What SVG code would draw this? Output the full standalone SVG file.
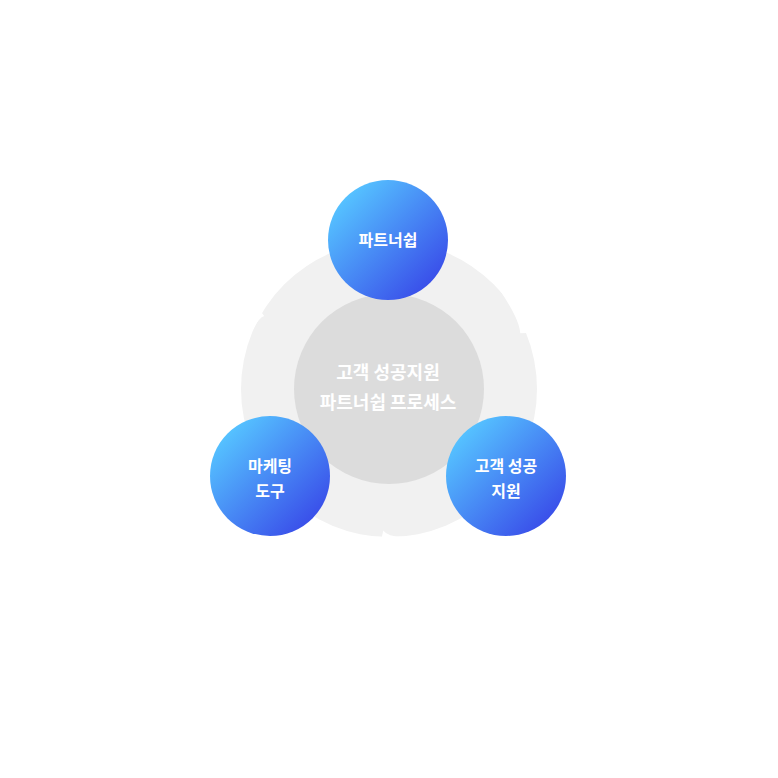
<svg xmlns="http://www.w3.org/2000/svg" width="778" height="778" viewBox="0 0 778 778">
<defs>
<linearGradient id="blue" x1="0.15" y1="0.15" x2="0.85" y2="0.85">
<stop offset="0" stop-color="#55c1ff"/>
<stop offset="1" stop-color="#3a51ea"/>
</linearGradient>
<style>
.lbl{font-family:"Noto Sans CJK KR","Noto Sans",sans-serif;font-weight:700;fill:#ffffff;text-anchor:middle;dominant-baseline:central}
.node{fill:url(#blue)}
</style>
</defs>
<rect width="778" height="778" fill="#ffffff"/>
<g id="cycle-ring">
<circle cx="389" cy="389" r="148" fill="#f1f1f1"/>
<path d="M252.3,331 Q258.5,318.1 264.2,316.1 L261.7,312.8 L255.1,308.9 L245.4,328.1 Z" fill="#ffffff"/>
<path d="M499.4,289.6 Q519.7,319.5 520.2,333.3 L526.3,333 L533.4,330.1 L504.9,284.6 Z" fill="#ffffff"/>
<path d="M404.5,536.7 Q387.7,537 383.3,530.4 L381.8,537.1 L381,545 L405,545 Z" fill="#ffffff"/>
</g>
<g id="center">
<circle cx="389" cy="389" r="95" fill="#dcdcdc"/>
<text class="lbl" x="388" y="371" font-size="18">고객 성공지원</text>
<text class="lbl" x="388" y="401" font-size="18">파트너쉽 프로세스</text>
</g>
<g id="connectors"></g>
<g id="node-partnership">
<circle class="node" cx="388" cy="240" r="60"/>
<text class="lbl" x="388" y="239" font-size="16">파트너쉽</text>
</g>
<g id="node-marketing">
<circle class="node" cx="270" cy="476" r="60"/>
<text class="lbl" x="270" y="465" font-size="16">마케팅</text>
<text class="lbl" x="270" y="490" font-size="16">도구</text>
</g>
<g id="node-support">
<circle class="node" cx="506" cy="476" r="60"/>
<text class="lbl" x="506" y="465" font-size="16">고객 성공</text>
<text class="lbl" x="506" y="490" font-size="16">지원</text>
</g>
</svg>
